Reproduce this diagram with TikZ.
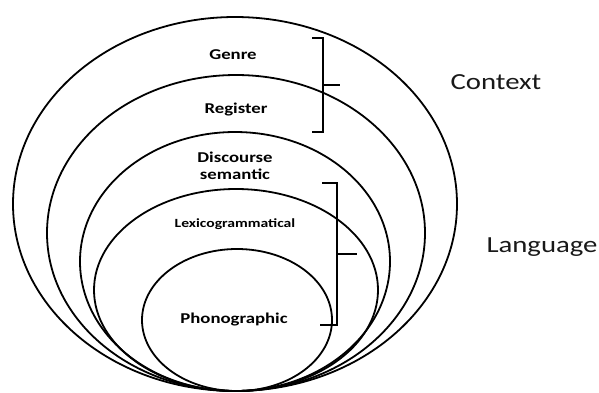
\documentclass[tikz,border=0pt]{standalone}
\usepackage{fontspec}
\setmainfont{Carlito}
\newfontfamily\lblfont[FakeStretch=1.25]{Carlito}
\usetikzlibrary{shapes.geometric}
\begin{document}
\begin{tikzpicture}[x=1pt,y=-1pt,
  ring/.style={draw=black,line width=1.8pt,ellipse,inner sep=0pt},
  level/.style={font=\lblfont\bfseries\fontsize{15}{17}\selectfont,text=black,align=center,inner sep=0pt},
  smalllevel/.style={font=\lblfont\bfseries\fontsize{12.5}{14}\selectfont,text=black,inner sep=0pt},
  side/.style={font=\lblfont\fontsize{23}{26}\selectfont,text=black!90,inner sep=0pt},
  brace/.style={draw=black,line width=2.6pt,line cap=butt,line join=miter}]
\useasboundingbox (0,0) rectangle (599,392);
\fill[white] (0,0) rectangle (599,392);

% nested strata, all touching at the bottom
\node[ring,minimum width=444pt,minimum height=374pt] (e1) at (235,204) {};
\node[ring,minimum width=378pt,minimum height=316pt] (e2) at (236,233) {};
\node[ring,minimum width=310pt,minimum height=259pt] (e3) at (235,261.5) {};
\node[ring,minimum width=284pt,minimum height=202pt] (e4) at (236,290) {};
\node[ring,minimum width=190pt,minimum height=142pt] (e5) at (237,320) {};

% stratum labels
\node[level] (genre) at (233,55) {Genre};
\node[level] (register) at (236,110) {Register};
\node[level] (discourse) at (235,166) {Discourse\\semantic};
\node[smalllevel] (lexico) at (235,224) {Lexicogrammatical};
\node[level] (phono) at (234,319) {Phonographic};

% context bracket
\coordinate (c1) at (312,38);
\coordinate (c2) at (323,38);
\coordinate (c3) at (323,132);
\coordinate (c4) at (312,132);
\coordinate (cm) at (323,85);
\coordinate (ct) at (340,85);
\draw[brace] (c1) -- (c2) -- (c3) -- (c4);
\draw[brace] (cm) -- (ct);

% language bracket
\coordinate (l1) at (322,183);
\coordinate (l2) at (337,183);
\coordinate (l3) at (337,325);
\coordinate (l4) at (320,325);
\coordinate (lm) at (337,254);
\coordinate (lt) at (357,254);
\draw[brace] (l1) -- (l2) -- (l3) -- (l4);
\draw[brace] (lm) -- (lt);

\node[side] (context) at (496,82) {Context};
\node[side] (language) at (542,247) {Language};
\end{tikzpicture}
\end{document}
